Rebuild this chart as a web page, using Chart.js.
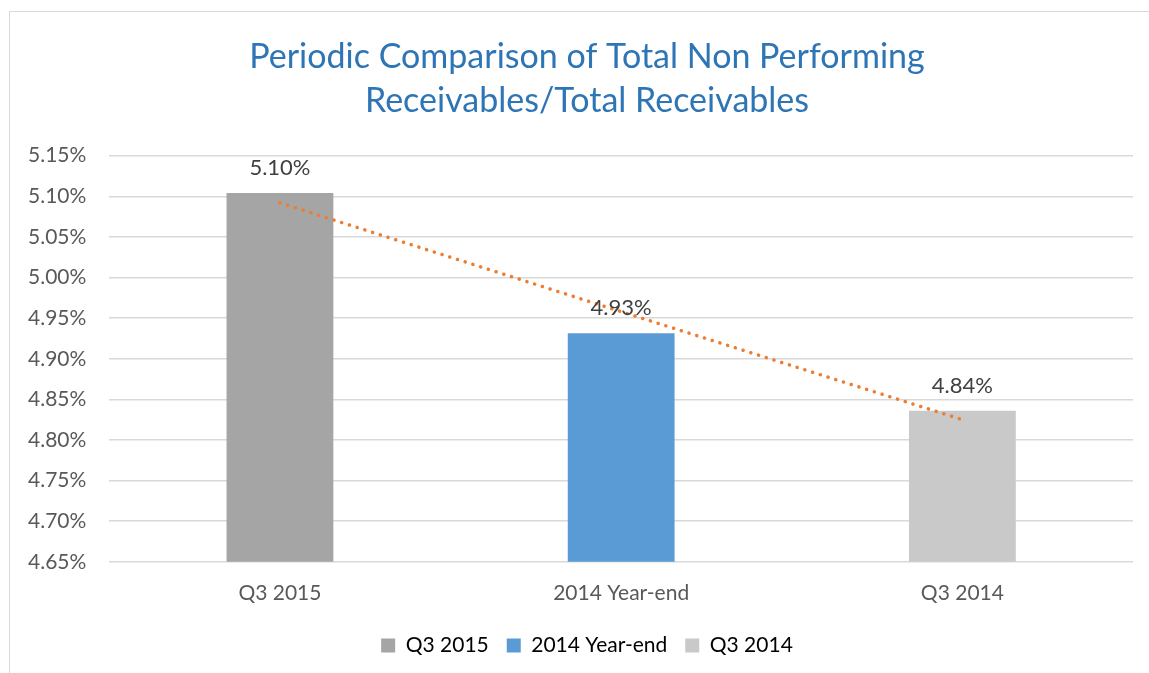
<!DOCTYPE html>
<html>
<head>
<meta charset="utf-8">
<script src="https://cdn.jsdelivr.net/npm/chart.js@4.4.1/dist/chart.umd.min.js"></script>
<style>
  html, body { margin: 0; padding: 0; background: #fff; overflow: hidden; }
  #wrap { position: absolute; left: 0; top: 0; width: 1149px; height: 673px; overflow: hidden; }
  #frame { position: absolute; left: 9px; top: 11px; width: 1160px; height: 700px; border: 1px solid #d9d9d9; box-sizing: border-box; pointer-events: none; }
</style>
</head>
<body>
<div id="wrap"><canvas id="grafico" width="1170" height="673"></canvas></div>
<div id="frame"></div>
<script>
const categorias = ['Q3 2015', '2014 Year-end', 'Q3 2014'];
const valores = [5.104, 4.9315, 4.836];
const rotulos = ['5.10%', '4.93%', '4.84%'];
const tendencia = [5.092, 4.958, 4.825];
const cores = ['#A5A5A5', '#5B9BD5', '#C9C9C9'];
const ticksY = [4.65, 4.70, 4.75, 4.80, 4.85, 4.90, 4.95, 5.00, 5.05, 5.10, 5.15];

const fonte = 'Lato, "Open Sans", sans-serif';

// rótulos de valor acima das barras
const rotulosPlugin = {
  id: 'rotulos',
  afterDatasetsDraw(chart) {
    const ctx = chart.ctx;
    const meta = chart.getDatasetMeta(0);
    ctx.save();
    ctx.font = '22px ' + fonte;
    ctx.fillStyle = '#404040';
    ctx.textAlign = 'center';
    ctx.textBaseline = 'middle';
    meta.data.forEach((bar, i) => {
      ctx.fillText(rotulos[i], bar.x, bar.y - 25);
    });
    ctx.restore();
  }
};

const ctx = document.getElementById('grafico').getContext('2d');
const grafico = new Chart(ctx, {
  type: 'bar',
  data: {
    labels: categorias,
    datasets: [{
      label: 'Valores',
      data: valores,
      backgroundColor: cores,
      barPercentage: 0.313,
      categoryPercentage: 1,
      order: 2
    }, {
      type: 'line',
      label: 'Tendência',
      data: tendencia,
      borderColor: '#ED7D31',
      borderWidth: 3.5,
      borderDash: [0.1, 8],
      borderCapStyle: 'round',
      pointRadius: 0,
      fill: false,
      order: 1
    }]
  },
  options: {
    responsive: false,
    animation: false,
    layout: { padding: { left: 5, right: 1, top: 35, bottom: 7 } },
    plugins: {
      title: {
        display: true,
        text: ['Periodic Comparison of Total Non Performing', 'Receivables/Total Receivables'],
        color: '#2E75B6',
        font: { family: fonte, size: 34, weight: 'normal', lineHeight: 1.29 },
        padding: { top: 0, bottom: 33 }
      },
      legend: {
        position: 'bottom',
        labels: {
          color: '#595959',
          font: { family: fonte, size: 21 },
          boxWidth: 14,
          boxHeight: 14,
          padding: 18,
          generateLabels: () => categorias.map((c, i) => ({
            text: c,
            fillStyle: cores[i],
            strokeStyle: cores[i],
            lineWidth: 0,
            index: i,
            datasetIndex: 0
          }))
        }
      },
      tooltip: { enabled: false }
    },
    scales: {
      x: {
        grid: { display: false },
        border: { display: false },
        ticks: { color: '#595959', font: { family: fonte, size: 21 }, padding: 11 }
      },
      y: {
        min: 4.65,
        max: 5.15,
        afterBuildTicks: (escala) => { escala.ticks = ticksY.map(v => ({ value: v })); },
        grid: { color: '#d9d9d9', lineWidth: 1.5, drawTicks: false },
        border: { display: false },
        ticks: {
          color: '#595959',
          font: { family: fonte, size: 21 },
          padding: 23,
          callback: (v) => Number(v).toFixed(2) + '%'
        }
      },
      // eixo vazio à direita, só para reservar espaço
      margem: {
        position: 'right',
        grid: { display: false, drawOnChartArea: false },
        border: { display: false },
        ticks: { display: false },
        afterFit: (escala) => { escala.width = 36; }
      }
    }
  },
  plugins: [rotulosPlugin]
});
</script>
</body>
</html>
